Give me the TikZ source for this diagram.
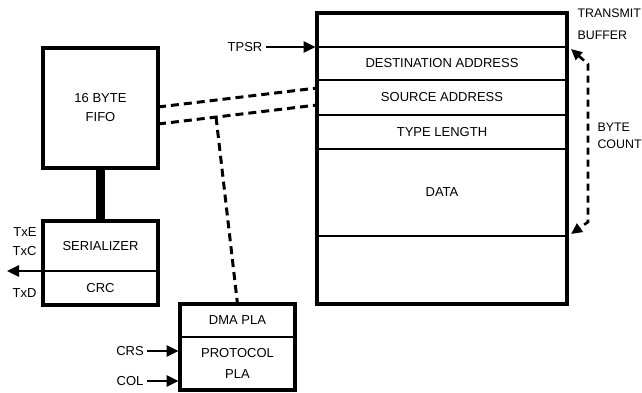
\documentclass[tikz,border=0pt]{standalone}
\usepackage{fontspec}
\setmainfont{Liberation Sans}
\usetikzlibrary{arrows.meta,positioning,calc}

\tikzset{
  part/.style={draw, line width=2.2pt, inner sep=0pt, outer sep=0pt, align=center},
  frame/.style={line width=3.4pt},
  arr/.style={line width=2.6pt, -{Triangle[length=12pt,width=11pt]}},
  link/.style={line width=3pt, dash pattern=on 8pt off 5pt},
}

\begin{document}
\begin{tikzpicture}[x=1pt, y=-1pt, font=\fontsize{13}{19}\selectfont]
    \useasboundingbox (0,0) rectangle (642,392);

    % FIFO and serializer
    \node[part, minimum width=115pt, minimum height=120pt, anchor=north west] (fifo) at (43,48) {16 BYTE\\FIFO};
    \draw[frame] (fifo.north west) rectangle (fifo.south east);
    \node[part, minimum width=115pt, minimum height=50pt, anchor=north west] (ser) at (43,221) {SERIALIZER};
    \node[part, minimum width=115pt, minimum height=34pt, below=0pt of ser] (crc) {CRC};
    \draw[frame] (ser.north west) rectangle (crc.south east);
    \draw[line width=9pt] (fifo.south) -- (ser.north);

    % serial side signals
    \node[anchor=east] (txe) at (40,232) {TxE};
    \node[anchor=east] (txc) at (40,251) {TxC};
    \node[anchor=east] (txd) at (40,293) {TxD};
    \coordinate (txout) at (7,271);
    \draw[arr] (ser.south west) -- (txout);

    % DMA / protocol PLA
    \node[part, minimum width=115pt, minimum height=33pt, anchor=north west] (dma) at (180,304) {DMA PLA};
    \node[part, minimum width=115pt, minimum height=53pt, below=0pt of dma] (prot) {PROTOCOL\\[2pt]PLA};
    \draw[frame] (dma.north west) rectangle (prot.south east);
    \node (crs) at (130,351) {CRS};
    \node (col) at (130,381) {COL};
    \draw[arr] (crs.east) -- ([xshift=-1.5pt]crs.east -| prot.west);
    \draw[arr] (col.east) -- ([xshift=-1.5pt]col.east -| prot.west);

    % transmit buffer
    \node[part, minimum width=250pt, minimum height=34pt, anchor=north west] (btop) at (317,13) {};
    \node[part, minimum width=250pt, minimum height=33pt, below=0pt of btop] (dest) {DESTINATION ADDRESS};
    \node[part, minimum width=250pt, minimum height=35pt, below=0pt of dest] (src) {SOURCE ADDRESS};
    \node[part, minimum width=250pt, minimum height=34pt, below=0pt of src] (tlen) {TYPE LENGTH};
    \node[part, minimum width=250pt, minimum height=87pt, below=0pt of tlen] (data) {DATA};
    \node[part, minimum width=250pt, minimum height=68pt, below=0pt of data] (bend) {};
    \draw[frame] (btop.north west) rectangle (bend.south east);

    \node (tpsr) at (245,47) {TPSR};
    \draw[arr] (tpsr.east) -- ([xshift=-1.5pt]dest.north west);

    \node[anchor=west, align=left, font=\fontsize{12.4}{19}\selectfont] (tbuf) at (574,24) {TRANSMIT\\[3pt]BUFFER};
    \node[anchor=west, align=left, font=\fontsize{12.4}{19}\selectfont] (bcount) at (594,136) {BYTE\\[-2pt]COUNT};

    % byte count span
    \coordinate (ct1) at (588,64);
    \coordinate (ct2) at (588,222);
    \draw[line width=2.6pt, dash pattern=on 7pt off 5pt,
          {Triangle[length=11pt,width=10pt]}-{Triangle[length=11pt,width=10pt]}]
      ([xshift=4pt,yshift=-2pt]dest.north east) -- (ct1) -- (ct2) -- ([xshift=4pt,yshift=2pt]bend.north east);

    % data paths from the FIFO
    \coordinate (fa) at ([yshift=1pt]fifo.east);
    \coordinate (fb) at ([yshift=-16pt]fifo.east);
    \coordinate (sa) at ([yshift=9.5pt]src.west);
    \coordinate (sb) at ([yshift=-7.5pt]src.west);
    \draw[link] (fa) -- (sa);
    \draw[link] (fb) -- (sb);
    \coordinate (tap) at ($(fb)!0.365!(sb)$);
    \draw[link] (tap) -- (dma.north);
\end{tikzpicture}
\end{document}
